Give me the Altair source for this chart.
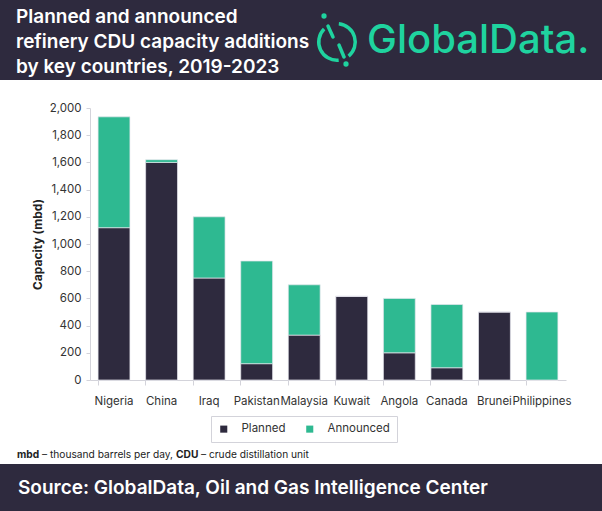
import altair as alt
import pandas as pd

# Refinery CDU capacity additions (thousand barrels per day), 2019-2023
countries = ["Nigeria", "China", "Iraq", "Pakistan", "Malaysia",
             "Kuwait", "Angola", "Canada", "Brunei", "Philippines"]
planned = [1120, 1600, 750, 120, 330, 615, 200, 90, 500, 0]
announced = [815, 20, 450, 755, 370, 0, 400, 465, 0, 500]
stages = ["Planned", "Announced"]

title_lines = ["Planned and announced",
               "refinery CDU capacity additions",
               "by key countries, 2019-2023"]
source_text = "Source: GlobalData, Oil and Gas Intelligence Center"

DARK = "#2e2a3e"
GREEN = "#2eb991"
LOGO = "#1fd39f"
FONT = "Inter"

# plot area origin inside the 602x511 canvas
PX, PY = 90, 108
PW, PH = 476, 272

rows = []
for c, p, a in zip(countries, planned, announced):
    rows.append({"country": c, "stage": "Planned", "value": p, "order": 0})
    rows.append({"country": c, "stage": "Announced", "value": a, "order": 1})
df = pd.DataFrame(rows)

bars = alt.Chart(df).mark_bar(stroke="#e6e6ee", strokeWidth=0.7).encode(
    x=alt.X("country:N", sort=countries, title=None,
            scale=alt.Scale(paddingInner=0.33, paddingOuter=0.17),
            axis=alt.Axis(labelAngle=0, labelFont=FONT, labelFontSize=11.5,
                          labelColor="#333333", labelPadding=10,
                          domainColor="#d3d3da", tickColor="#d3d3da",
                          tickSize=5, bandPosition=0, labelFlush=False)),
    y=alt.Y("value:Q", stack="zero", title="Capacity (mbd)",
            scale=alt.Scale(domain=[0, 2000]),
            axis=alt.Axis(values=list(range(0, 2001, 200)), format=",.0f",
                          grid=False, labelFont=FONT, labelFontSize=11.5,
                          labelColor="#333333", titleFont=FONT,
                          titleFontSize=12, titleFontWeight="bold",
                          titleColor="#222222", titlePadding=5,
                          domainColor="#d3d3da", tickColor="#d3d3da",
                          tickSize=4, labelPadding=5)),
    color=alt.Color("stage:N", scale=alt.Scale(domain=stages, range=[DARK, GREEN]),
                    legend=alt.Legend(title=None, orient="none", direction="horizontal",
                                      legendX=121, legendY=308, symbolType="square",
                                      symbolSize=50, labelFont=FONT, labelFontSize=11.5,
                                      labelColor="#333333", columnPadding=18,
                                      padding=7, strokeColor="#d3d3da",
                                      symbolStrokeWidth=0, labelOffset=12,
                                      fillColor="white")),
    order=alt.Order("order:Q", sort="ascending"),
)

base = alt.Chart(pd.DataFrame({"k": [0]}))

# header and footer bands
header = base.mark_rect(color=DARK).encode(
    x=alt.value(-PX), x2=alt.value(602 - PX), y=alt.value(-PY), y2=alt.value(80 - PY))
footer = base.mark_rect(color=DARK).encode(
    x=alt.value(-PX), x2=alt.value(602 - PX), y=alt.value(464 - PY), y2=alt.value(511 - PY))

title_layers = []
for i, line in enumerate(title_lines):
    title_layers.append(base.mark_text(
        text=line, font=FONT, fontSize=19, fontWeight=600, color="white",
        align="left", baseline="middle").encode(
        x=alt.value(16 - PX), y=alt.value(17 + i * 25 - PY)))

# logo mark: two arcs, a split slash and two dots
cx, cy = 337 - PX, 42 - PY
arc_left = base.mark_arc(color=LOGO, innerRadius=16.5, outerRadius=20,
                         theta=3.05, theta2=5.5).encode(
    x=alt.value(cx), y=alt.value(cy))
arc_right = base.mark_arc(color=LOGO, innerRadius=16.5, outerRadius=20,
                          theta=0.1, theta2=2.45).encode(
    x=alt.value(cx), y=alt.value(cy))
slash1 = base.mark_rule(color=LOGO, strokeWidth=3.5, strokeCap="round").encode(
    x=alt.value(328 - PX), y=alt.value(26 - PY), x2=alt.value(333 - PX), y2=alt.value(37 - PY))
slash2 = base.mark_rule(color=LOGO, strokeWidth=3.5, strokeCap="round").encode(
    x=alt.value(339 - PX), y=alt.value(45 - PY), x2=alt.value(344 - PX), y2=alt.value(57 - PY))
dot1 = base.mark_point(color=LOGO, filled=True, size=28, opacity=1).encode(
    x=alt.value(324 - PX), y=alt.value(16 - PY))
dot2 = base.mark_point(color=LOGO, filled=True, size=28, opacity=1).encode(
    x=alt.value(346 - PX), y=alt.value(64 - PY))
logo_text = base.mark_text(text="GlobalData.", font=FONT, fontSize=40,
                           fontWeight=500, color=LOGO, align="left",
                           baseline="alphabetic").encode(
    x=alt.value(367 - PX), y=alt.value(53 - PY))

# footnote with bold abbreviations
note_y = 455 - PY
note_parts = [
    ("mbd", "bold", 17),
    ("\u2013 thousand barrels per day,", "normal", 42),
    ("CDU", "bold", 176),
    ("\u2013 crude distillation unit", "normal", 201),
]
note_layers = [
    base.mark_text(text=t, font=FONT, fontSize=10.2, fontWeight=w, color="#222222",
                   align="left", baseline="middle").encode(
        x=alt.value(x - PX), y=alt.value(note_y))
    for t, w, x in note_parts
]

source = base.mark_text(text=source_text, font=FONT, fontSize=19, fontWeight=600,
                        color="white", align="left", baseline="middle").encode(
    x=alt.value(18 - PX), y=alt.value(488 - PY))

chart = alt.layer(
    header, footer, bars, *title_layers, arc_left, arc_right, slash1, slash2,
    dot1, dot2, logo_text, *note_layers, source
).properties(
    width=PW, height=PH,
    autosize=alt.AutoSizeParams(type="none"),
    padding={"left": PX, "top": PY, "right": 602 - PX - PW, "bottom": 511 - PY - PH},
    background="white",
).configure_view(stroke=None, clip=False)

chart.save("out.html", embed_options={"renderer": "svg", "actions": False})
